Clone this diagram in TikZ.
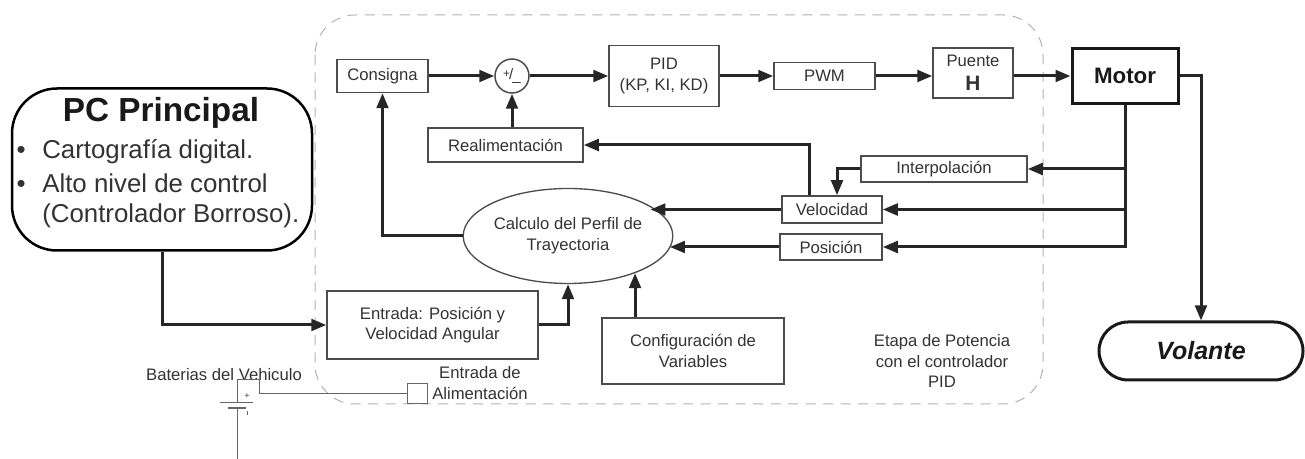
\documentclass[tikz,border=0pt]{standalone}
\usepackage{fontspec}
\setmainfont{Liberation Sans}
\usetikzlibrary{arrows.meta,calc,shapes.geometric}
\tikzset{
	bloque/.style={draw=black!70, line width=0.9pt, inner sep=0pt, text=black!80, align=center, font=\fontsize{10}{12.4}\selectfont},
	texto/.style={inner sep=0pt, text=black!80, align=center, font=\fontsize{10}{12.4}\selectfont},
	flecha/.style={line width=1.8pt, draw=black!85, -{Triangle[length=9pt,width=7pt]}},
	linea/.style={line width=1.8pt, draw=black!85},
	cable/.style={line width=0.6pt, draw=black!60},
}

\begin{document}
\begin{tikzpicture}[x=0.6pt, y=-0.6pt]
		%%%%% START %%%%%
		\useasboundingbox (0,0) rectangle (1305,459);
		\draw[black!30, line width=0.6pt, dash pattern=on 6pt off 4.5pt, rounded corners=24pt] (315,15) rectangle (1043,404);
		
		\node[draw=black, line width=1.5pt, rounded corners=27pt, minimum width=180pt, minimum height=97.2pt] (pc) at (162,169.5) {};
		\node[texto, text=black!90, font=\fontsize{20}{24}\selectfont\bfseries] (pctitulo) at (161,113) {PC Principal};
		\node[texto, anchor=west, font=\fontsize{15.5}{18}\selectfont] (pcuno) at (42,152) {\llap{\textbullet\hspace{10pt}}Cartografía digital.};
		\node[texto, anchor=west, font=\fontsize{15.5}{18}\selectfont] (pcdos) at (42,183) {\llap{\textbullet\hspace{10pt}}Alto nivel de control};
		\node[texto, anchor=west, font=\fontsize{15.5}{18}\selectfont] (pctres) at (42,216) {(Controlador Borroso).};
		
		\node[bloque, minimum width=54.6pt, minimum height=19.8pt] (consigna) at (382.5,76) {Consigna};
		\node[bloque, circle, minimum size=20.4pt] (suma) at (512,76) {\fontsize{9}{9}\selectfont\raisebox{1.5pt}{\fontsize{7}{7}\selectfont+}\kern-0.5pt/\kern-0.5pt\raisebox{-0.5pt}{\_}};
		\node[bloque, minimum width=66pt, minimum height=36.6pt] (pid) at (664,76) {PID\\(KP, KI, KD)};
		\node[bloque, minimum width=60.6pt, minimum height=16.2pt] (pwm) at (824.5,76) {PWM};
		\node[bloque, minimum width=48pt, minimum height=30pt] (puente) at (973,73) {Puente\\[2pt]{\fontsize{12.5}{14}\selectfont\bfseries H}};
		\node[bloque, draw=black!90, line width=1.8pt, text=black!90, minimum width=63.6pt, minimum height=33pt, font=\fontsize{13.4}{16}\selectfont\bfseries] (motor) at (1125,76) {Motor};
		\node[bloque, minimum width=93pt, minimum height=20.4pt] (realim) at (505.5,145) {Realimentación};
		\node[bloque, minimum width=99.6pt, minimum height=15.6pt] (interp) at (944,169) {Interpolación};
		\node[bloque, minimum width=60pt, minimum height=16.2pt] (velocidad) at (832,209.5) {Velocidad};
		\node[bloque, minimum width=61.2pt, minimum height=15.6pt] (posicion) at (831,247) {Posición};
		\node[bloque, ellipse, line width=0.8pt, minimum width=109.2pt, minimum height=57pt] (perfil) at (568,236) {Calculo del Perfil de\\Trayectoria};
		\node[bloque, minimum width=126.6pt, minimum height=40.8pt] (entrada) at (432.5,325) {Entrada: Posición y\\Velocidad Angular};
		\node[bloque, minimum width=109.2pt, minimum height=39.6pt] (config) at (693,351) {Configuración de\\Variables};
		\node[draw=black!90, line width=1.8pt, rounded corners=17.4pt, minimum width=122.4pt, minimum height=34.8pt, text=black!90, font=\fontsize{15}{18}\selectfont\bfseries\itshape] (volante) at (1201,351) {Volante};
		\node[texto] (etapa) at (942,361) {Etapa de Potencia\\con el controlador\\PID};
		
		% alimentacion
		\node[bloque, draw=black!60, line width=0.6pt, minimum size=12pt] (alim) at (417,393.5) {};
		\node[texto] (alimtexto) at (480,383) {Entrada de\\Alimentación};
		\node[texto] (baterias) at (224,375) {Baterias del Vehiculo};
		\draw[cable] (alim.west) -- (259,393.5) -- (259,380) -- (237,380) -- (237,403);
		\draw[cable] (220,403) -- (253,403);
		\draw[cable, line width=1.2pt] (228,408) -- (246,408);
		\draw[cable] (237,408) -- (237,459);
		\node[texto, font=\fontsize{5}{5}\selectfont] (mas) at (247,396) {+};
		\draw[cable] (247,411) -- (247,415);
		
		% lazo principal
		\draw[flecha] (consigna.east) -- (suma.west);
		\draw[flecha] (suma.east) -- (pid.west);
		\draw[flecha] (pid.east) -- (pwm.west);
		\draw[flecha] (pwm.east) -- (pwm.east -| puente.west);
		\draw[flecha] (puente.east |- motor.west) -- (motor.west);
		\draw[flecha] (motor.east) -| (volante.north);
		\draw[flecha] (suma.south |- realim.north) -- (suma.south);
		
		% realimentacion del motor
		\draw[flecha] (motor.south) |- (posicion.east);
		\draw[flecha] (motor.south |- interp.east) -- (interp.east);
		\draw[flecha] (motor.south |- velocidad.east) -- (velocidad.east);
		\draw[flecha] (interp.west) -| ($(velocidad.north)+(5,0)$);
		\draw[flecha] ($(velocidad.north)+(-23,0)$) |- (realim.east);
		\draw[flecha] (velocidad.west) -- (velocidad.west -| perfil.20);
		\draw[flecha] (posicion.west) -- (posicion.west -| perfil.-7);
		\draw[flecha] (perfil.west) -| (consigna.south);
		
		% entradas al perfil
		\draw[flecha] (pc.south) |- (entrada.west);
		\draw[flecha] (entrada.east) -| (perfil.south);
		\draw[flecha] (config.north -| perfil.-29) -- (perfil.-29);
		%%%%% END %%%%%
\end{tikzpicture}
\end{document}
